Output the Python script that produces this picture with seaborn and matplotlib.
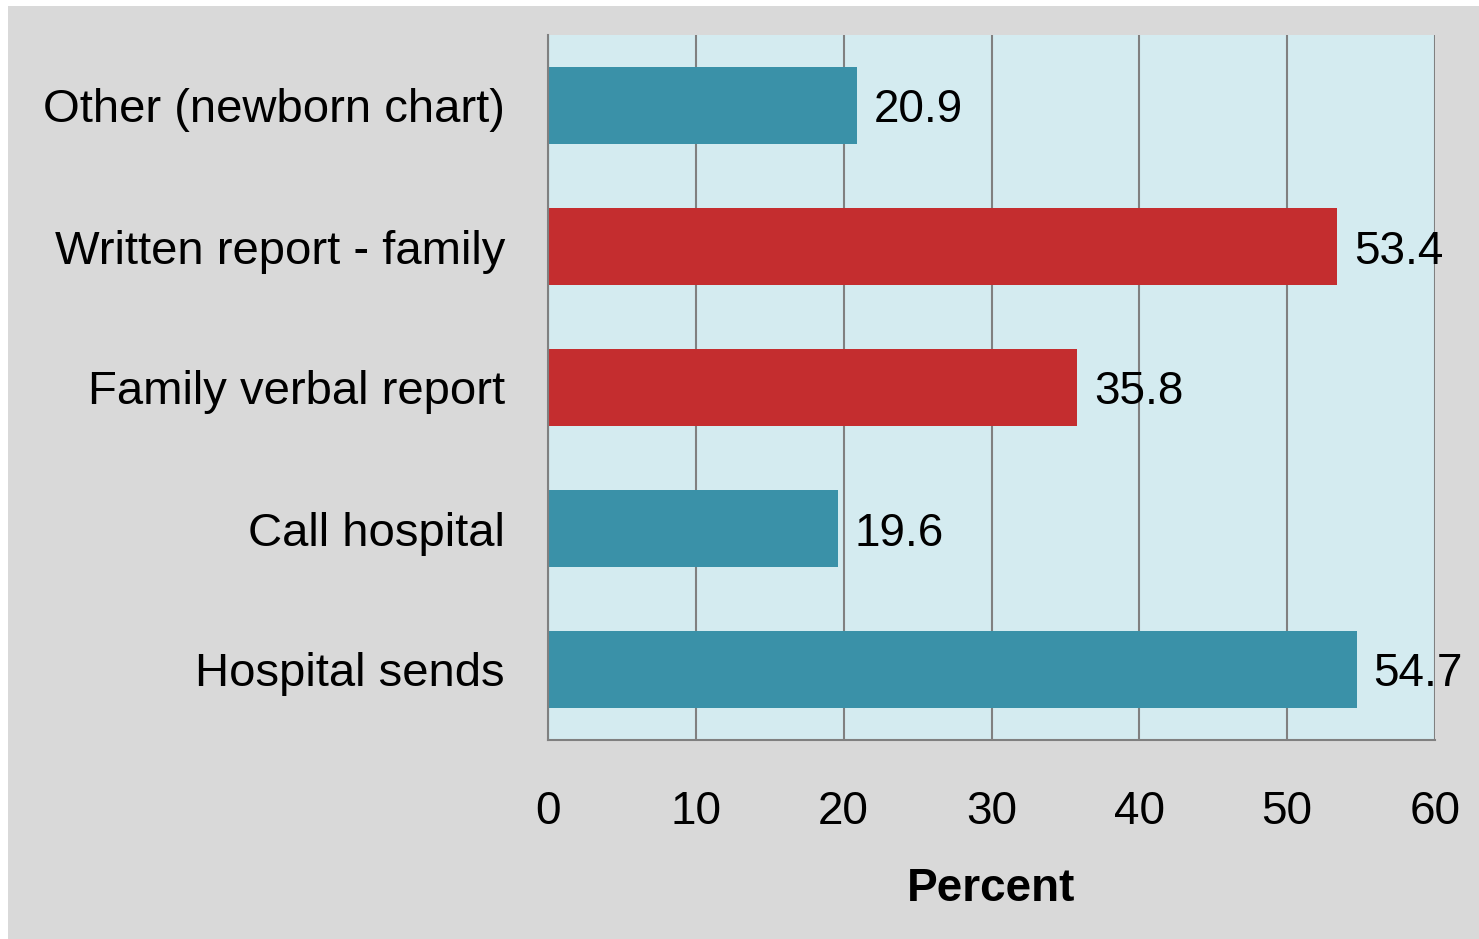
import matplotlib
matplotlib.use("Agg")
import matplotlib.pyplot as plt
import seaborn as sns
import pandas as pd
from matplotlib.patches import Rectangle

categories = ["Other (newborn chart)", "Written report - family", "Family verbal report",
              "Call hospital", "Hospital sends"]
values = [20.9, 53.4, 35.8, 19.6, 54.7]
bar_colors = ["#3a91a8", "#c42d2f", "#c42d2f", "#3a91a8", "#3a91a8"]
x_ticks = [0, 10, 20, 30, 40, 50, 60]

sns.set_style("white")
plt.rcParams["font.family"] = ["Liberation Sans", "DejaVu Sans"]
plt.rcParams["text.color"] = "black"
plt.rcParams["xtick.color"] = "black"
plt.rcParams["ytick.color"] = "black"
plt.rcParams["axes.labelcolor"] = "black"

W, H = 1479, 939
fig = plt.figure(figsize=(W / 100, H / 100), dpi=100, facecolor="white")
fig.patches.append(Rectangle((8 / W, 0), 1 - 8 / W, 1 - 6 / H, transform=fig.transFigure,
                             facecolor="#d9d9d9", edgecolor="none", zorder=-10))

ax = fig.add_axes([548 / W, 1 - 740 / H, (1435 - 548) / W, (740 - 35) / H])
ax.set_facecolor("#d4ebf0")

df = pd.DataFrame({"cat": categories, "val": values})
sns.barplot(data=df, x="val", y="cat", hue="cat", palette=bar_colors, order=categories,
            hue_order=categories, width=0.54, legend=False, saturation=1, ax=ax,
            edgecolor="none", linewidth=0)

for c in ax.containers:
    texts = ax.bar_label(c, labels=[f"{v:.1f}" for v in c.datavalues], padding=12,
                         fontsize=33, color="black")
    for t in texts:
        t.set_va("center_baseline")

ax.set_xlim(0, 60)
ax.set_ylim(4.5, -0.5)
ax.set_xticks(x_ticks)
ax.set_xticklabels([str(t) for t in x_ticks])
ax.tick_params(axis="x", length=0, pad=36, labelsize=33, labelcolor="black")
ax.tick_params(axis="y", length=0, pad=31, labelsize=34, labelcolor="black")
ax.grid(axis="x", color="#808080", linewidth=1.5)
ax.grid(axis="y", visible=False)
ax.set_axisbelow(True)
for s in ["top", "right"]:
    ax.spines[s].set_visible(False)
for s in ["left", "bottom"]:
    ax.spines[s].set_visible(True)
    ax.spines[s].set_color("#808080")
    ax.spines[s].set_linewidth(1.5)
ax.set_ylabel("")
ax.set_xlabel("Percent", fontsize=33, fontweight="bold", labelpad=24, color="black")

fig.savefig("out.png", dpi=100, facecolor=fig.get_facecolor())
